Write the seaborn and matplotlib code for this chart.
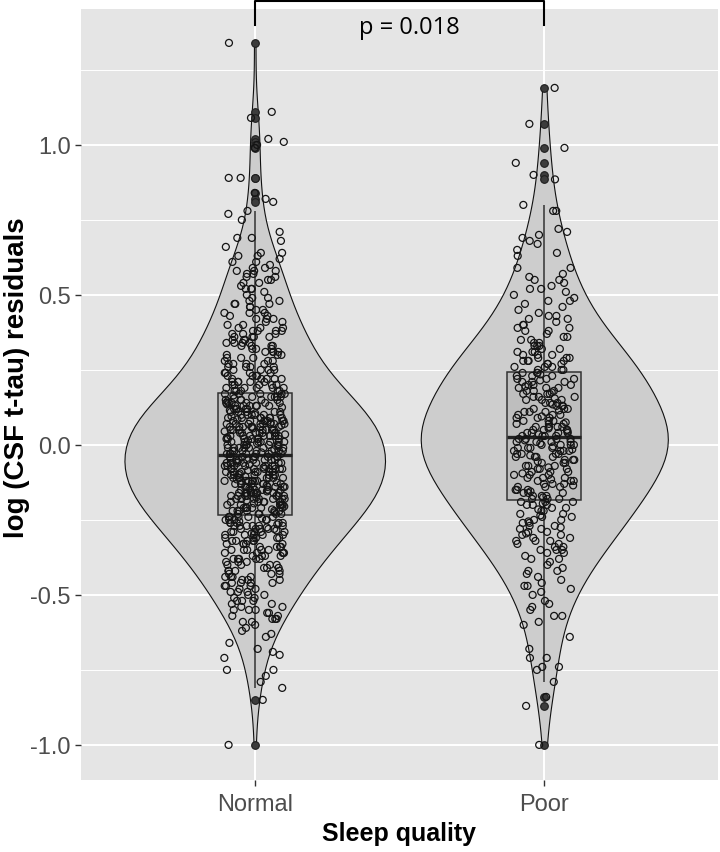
import numpy as np
import pandas as pd
import matplotlib
matplotlib.use("Agg")
import matplotlib.pyplot as plt
from matplotlib.ticker import FixedLocator
import seaborn as sns

# residuals, one value per subject
normal_res = [
    1.34, 1.11, 1.09, 1.02, 1.01, 1.00, 0.99, 0.89, 0.89, 0.84, 0.82, 0.81,
    0.78, 0.77, 0.75, 0.71, 0.69, 0.69, 0.68, 0.66, 0.64, 0.64, 0.63, 0.63,
    0.62, 0.61, 0.61, 0.60,
    0.59, 0.59, 0.58, 0.58, 0.57, 0.57, 0.56, 0.56, 0.55, 0.54, 0.54, 0.53,
    0.52, 0.52, 0.51, 0.50,
    0.49, 0.49, 0.48, 0.48, 0.47, 0.47, 0.46, 0.46, 0.45, 0.45, 0.44, 0.44,
    0.43, 0.43, 0.42, 0.42, 0.41, 0.41, 0.40, 0.40,
    0.39, 0.39, 0.39, 0.38, 0.38, 0.38, 0.37, 0.37, 0.37, 0.36, 0.36, 0.36,
    0.35, 0.35, 0.35, 0.34, 0.34, 0.34, 0.33, 0.33, 0.33, 0.32, 0.32, 0.32,
    0.31, 0.31, 0.31, 0.30, 0.30, 0.30,
    0.29, 0.29, 0.28, 0.28, 0.27, 0.27, 0.27, 0.26, 0.26, 0.26, 0.25, 0.25,
    0.25, 0.24, 0.24, 0.24, 0.23, 0.23, 0.23, 0.22, 0.22, 0.22, 0.22, 0.21,
    0.21, 0.21, 0.21, 0.20, 0.20, 0.20, 0.20, 0.19, 0.19, 0.19, 0.19, 0.18,
    0.18, 0.18, 0.18, 0.18,
    0.52, 0.55, 0.58, 0.47, 0.44, 0.42, 0.38, 0.36, 0.34, 0.33, 0.31, 0.29,
    0.28, 0.27, 0.26, 0.25, 0.24, 0.23, 0.22, 0.21, 0.20, 0.19,
    0.17, 0.17, 0.17, 0.17, 0.17,
    0.16, 0.16, 0.16, 0.16, 0.16,
    0.15, 0.15, 0.15, 0.15, 0.15,
    0.14, 0.14, 0.14, 0.14, 0.14, 0.14,
    0.13, 0.13, 0.13, 0.13, 0.13, 0.13,
    0.12, 0.12, 0.12, 0.12, 0.12,
    0.11, 0.11, 0.11, 0.11, 0.11,
    0.10, 0.10, 0.10, 0.10, 0.10, 0.10,
    0.09, 0.09, 0.09, 0.09, 0.09, 0.09, 0.09,
    0.08, 0.08, 0.08, 0.08, 0.08, 0.08, 0.08,
    0.07, 0.07, 0.07, 0.07, 0.07, 0.07, 0.07,
    0.06, 0.06, 0.06, 0.06, 0.06, 0.06, 0.06,
    0.05, 0.05, 0.05, 0.05, 0.05, 0.05, 0.05,
    0.04, 0.04, 0.04, 0.04, 0.04, 0.04, 0.04,
    0.03, 0.03, 0.03, 0.03, 0.03, 0.03, 0.03,
    0.02, 0.02, 0.02, 0.02, 0.02, 0.02, 0.02,
    0.01, 0.01, 0.01, 0.01, 0.01, 0.01, 0.01,
    0.00, 0.00, 0.00, 0.00, 0.00, 0.00, 0.00,
    -0.01, -0.01, -0.01, -0.01, -0.01, -0.01, -0.01,
    -0.02, -0.02, -0.02, -0.02, -0.02, -0.02, -0.02,
    -0.03, -0.03, -0.03, -0.03, -0.03, -0.03, -0.03,
    0.165, 0.155, 0.145, 0.135, 0.125, 0.115, 0.105, 0.095, 0.085, 0.075,
    0.065, 0.055, 0.045, 0.035, 0.025, 0.015, 0.005, -0.005, -0.015, -0.025,
    0.07, 0.03,
    -0.04, -0.04, -0.04, -0.04, -0.04, -0.04, -0.04,
    -0.05, -0.05, -0.05, -0.05, -0.05, -0.05, -0.05,
    -0.06, -0.06, -0.06, -0.06, -0.06, -0.06, -0.06,
    -0.07, -0.07, -0.07, -0.07, -0.07, -0.07, -0.07,
    -0.08, -0.08, -0.08, -0.08, -0.08, -0.08, -0.08,
    -0.09, -0.09, -0.09, -0.09, -0.09, -0.09, -0.09,
    -0.10, -0.10, -0.10, -0.10, -0.10, -0.10, -0.10,
    -0.11, -0.11, -0.11, -0.11, -0.11, -0.11, -0.11,
    -0.12, -0.12, -0.12, -0.12, -0.12, -0.12, -0.12,
    -0.13, -0.13, -0.13, -0.13, -0.13, -0.13, -0.13,
    -0.14, -0.14, -0.14, -0.14, -0.14, -0.14, -0.14,
    -0.15, -0.15, -0.15, -0.15, -0.15, -0.15, -0.15,
    -0.16, -0.16, -0.16, -0.16, -0.16, -0.16, -0.16,
    -0.17, -0.17, -0.17, -0.17, -0.17, -0.17, -0.17,
    -0.18, -0.18, -0.18, -0.18, -0.18, -0.18, -0.18,
    -0.19, -0.19, -0.19, -0.19, -0.19, -0.19,
    -0.20, -0.20, -0.20, -0.20, -0.20, -0.20,
    -0.21, -0.21, -0.21, -0.21, -0.21, -0.21,
    -0.22, -0.22, -0.22, -0.22, -0.22, -0.22,
    -0.23, -0.23, -0.23, -0.23, -0.23,
    -0.045, -0.055, -0.065, -0.075, -0.085, -0.095, -0.105, -0.115, -0.125,
    -0.135, -0.145, -0.155, -0.165, -0.175, -0.185, -0.195, -0.205, -0.215,
    -0.225, -0.08, -0.12, -0.16,
    -0.24, -0.24, -0.24, -0.24, -0.24,
    -0.25, -0.25, -0.25, -0.25, -0.25,
    -0.26, -0.26, -0.26, -0.26, -0.26,
    -0.27, -0.27, -0.27, -0.27, -0.27,
    -0.28, -0.28, -0.28, -0.28, -0.28,
    -0.29, -0.29, -0.29, -0.29, -0.29,
    -0.30, -0.30, -0.30, -0.30,
    -0.31, -0.31, -0.31, -0.31,
    -0.32, -0.32, -0.32, -0.32,
    -0.33, -0.33, -0.33, -0.33,
    -0.34, -0.34, -0.34, -0.34,
    -0.35, -0.35, -0.35, -0.35,
    -0.36, -0.36, -0.36, -0.36,
    -0.37, -0.37, -0.37, -0.37,
    -0.38, -0.38, -0.38, -0.38,
    -0.39, -0.39, -0.39, -0.40, -0.40, -0.40, -0.41, -0.41, -0.41,
    -0.42, -0.42, -0.42, -0.43, -0.43, -0.43, -0.44, -0.44, -0.44,
    -0.45, -0.45, -0.45, -0.46, -0.46, -0.46, -0.47, -0.47, -0.47,
    -0.48, -0.48, -0.49, -0.49, -0.50, -0.50, -0.51, -0.51, -0.52, -0.52,
    -0.53, -0.53, -0.54, -0.54, -0.55, -0.55, -0.56, -0.56, -0.57, -0.57,
    -0.58, -0.58, -0.59, -0.59,
    -0.245, -0.255, -0.265, -0.275, -0.285, -0.295, -0.31, -0.32, -0.33,
    -0.35, -0.36, -0.38, -0.40, -0.42, -0.44, -0.46, -0.49, -0.52, -0.55,
    -0.58, -0.27, -0.30,
    -0.60, -0.61, -0.62, -0.63, -0.64, -0.66, -0.68, -0.69, -0.70, -0.71,
    -0.75, -0.75, -0.77, -0.79, -0.81, -0.85, -1.00,
]

poor_res = [
    1.19, 1.07, 0.99, 0.94, 0.90, 0.885, 0.80, 0.78, 0.78, 0.72, 0.71, 0.70,
    0.69, 0.68, 0.67, 0.65, 0.64, 0.63,
    0.59, 0.59, 0.57, 0.56, 0.55, 0.54, 0.53, 0.52, 0.52, 0.51, 0.50, 0.49,
    0.48, 0.47, 0.46, 0.45,
    0.44, 0.43, 0.42, 0.42, 0.41, 0.40, 0.40, 0.39, 0.38, 0.38, 0.37, 0.36,
    0.36, 0.35,
    0.34, 0.34, 0.33, 0.33, 0.32, 0.32, 0.31, 0.31, 0.30, 0.30, 0.30, 0.29,
    0.29, 0.28, 0.28, 0.28, 0.27, 0.27, 0.26, 0.26, 0.25, 0.25,
    0.55, 0.48, 0.43, 0.39, 0.35, 0.33, 0.31, 0.29, 0.28, 0.27, 0.26, 0.25,
    0.24, 0.24, 0.24, 0.23, 0.23, 0.23, 0.22, 0.22, 0.22, 0.21, 0.21, 0.21,
    0.20, 0.20, 0.20, 0.19, 0.19, 0.19, 0.18, 0.18, 0.18, 0.17, 0.17, 0.17,
    0.16, 0.16, 0.16, 0.15, 0.15, 0.15,
    0.14, 0.14, 0.14, 0.13, 0.13, 0.13, 0.12, 0.12, 0.12, 0.11, 0.11, 0.11,
    0.10, 0.10, 0.10, 0.09, 0.09, 0.09, 0.08, 0.08, 0.08, 0.07, 0.07, 0.07,
    0.06, 0.06, 0.06, 0.06, 0.05, 0.05, 0.05, 0.05, 0.04, 0.04, 0.04, 0.04,
    0.03, 0.03, 0.03, 0.03,
    0.235, 0.215, 0.195, 0.175, 0.155, 0.135, 0.115, 0.095, 0.075, 0.055,
    0.045, 0.035,
    0.02, 0.02, 0.02, 0.02, 0.01, 0.01, 0.01, 0.01, 0.00, 0.00, 0.00, 0.00,
    -0.01, -0.01, -0.01, -0.01, -0.02, -0.02, -0.02, -0.02,
    -0.03, -0.03, -0.03, -0.03, -0.04, -0.04, -0.04, -0.04,
    -0.05, -0.05, -0.05, -0.06, -0.06, -0.06, -0.07, -0.07, -0.07,
    -0.08, -0.08, -0.08, -0.09, -0.09, -0.09, -0.10, -0.10, -0.10,
    -0.11, -0.11, -0.11, -0.12, -0.12, -0.12, -0.13, -0.13, -0.13,
    -0.14, -0.14, -0.14, -0.15, -0.15, -0.15, -0.16, -0.16, -0.16,
    -0.17, -0.17, -0.17, -0.18, -0.18, -0.18,
    0.015, 0.005, -0.005, -0.015, -0.035, -0.055, -0.075, -0.095, -0.115,
    -0.135, -0.155, -0.175,
    -0.19, -0.19, -0.19, -0.20, -0.20, -0.20,
    -0.21, -0.21, -0.22, -0.22, -0.23, -0.23, -0.24, -0.24, -0.25, -0.25,
    -0.26, -0.26, -0.27, -0.27, -0.28, -0.28, -0.29, -0.29, -0.30, -0.30,
    -0.31, -0.31, -0.32, -0.32, -0.33, -0.33, -0.34, -0.34, -0.35, -0.35,
    -0.36, -0.36, -0.37, -0.38, -0.39, -0.40,
    -0.41, -0.42, -0.43, -0.44, -0.45, -0.46, -0.47, -0.48, -0.49, -0.50,
    -0.52, -0.54, -0.55, -0.57, -0.57, -0.59, -0.60,
    -0.195, -0.215, -0.235, -0.255, -0.275, -0.295, -0.32, -0.35, -0.38,
    -0.42, -0.47, -0.53,
    -0.64, -0.68, -0.71, -0.71, -0.74, -0.74, -0.75, -0.79, -0.84, -0.87,
    -1.00,
]

groups = ["Normal", "Poor"]
y_ticks = [-1.0, -0.5, 0.0, 0.5, 1.0]
y_tick_labels = ["-1.0", "-0.5", "0.0", "0.5", "1.0"]
y_minor = [-0.75, -0.25, 0.25, 0.75, 1.25]
p_label = "p = 0.018"

df = pd.DataFrame({
    "quality": ["Normal"] * len(normal_res) + ["Poor"] * len(poor_res),
    "res": normal_res + poor_res,
})

plt.rcParams["font.family"] = ["Liberation Sans", "DejaVu Sans"]

fig = plt.figure(figsize=(7.2, 8.53), dpi=100)
ax = fig.add_axes([81 / 720, 1 - 781 / 853, 637 / 720, 771 / 853])
ax.set_facecolor("#e5e5e5")

# violins (trimmed, area scaled like ggplot)
sns.violinplot(data=df, x="quality", y="res", order=groups, color="#cdcdcd",
               saturation=1, linecolor="#111111", linewidth=0.8, inner=None,
               cut=0, width=0.9, density_norm="area", bw_adjust=1.05, ax=ax)

# jittered open points
n0 = len(ax.collections)
np.random.seed(7)
sns.stripplot(data=df, x="quality", y="res", order=groups, jitter=0.105,
              size=5.0, color="#cdcdcd", ax=ax)
for coll in ax.collections[n0:]:
    coll.set_facecolor("none")
    coll.set_edgecolor("#141414")
    coll.set_linewidth(0.9)

# boxes on top, semi transparent
sns.boxplot(data=df, x="quality", y="res", order=groups, width=0.255, whis=1.5,
            linecolor="#333333", linewidth=1.1, showcaps=False,
            boxprops=dict(facecolor=(0.72, 0.72, 0.72, 0.7)),
            medianprops=dict(linewidth=2.4, color="#222222"),
            flierprops=dict(marker="o", markersize=5.5, markerfacecolor="#3c3c3c",
                            markeredgecolor="#1e1e1e", markeredgewidth=0.8),
            ax=ax)

ax.set_xlim(-0.6, 1.6)
ax.set_ylim(-1.117, 1.453)
ax.set_yticks(y_ticks)
ax.set_yticklabels(y_tick_labels)
ax.yaxis.set_minor_locator(FixedLocator(y_minor))
ax.set_axisbelow(True)
ax.grid(which="major", color="white", linewidth=1.4)
ax.grid(which="minor", axis="y", color="white", linewidth=0.7)
for s in ax.spines.values():
    s.set_visible(False)
ax.tick_params(which="major", length=4.5, width=1, color="#333333",
               labelsize=17, labelcolor="#4d4d4d", pad=3)
ax.tick_params(axis="x", which="major", pad=5)
ax.tick_params(which="minor", length=0)

ax.set_xlabel("Sleep quality", fontsize=18, fontweight="bold", labelpad=4)
ax.set_ylabel("log (CSF t-tau) residuals", fontsize=20, fontweight="bold")
ax.yaxis.set_label_coords(-0.080, 0.523)

# significance bracket
ax.plot([0, 0, 1, 1], [1.40, 1.48, 1.48, 1.40], color="black", linewidth=1.5,
        clip_on=False)
ax.text(0.534, 1.372, p_label, ha="center", va="baseline", fontsize=17,
        family=["Open Sans", "DejaVu Sans"], color="black")

fig.savefig("out.png", dpi=100)
